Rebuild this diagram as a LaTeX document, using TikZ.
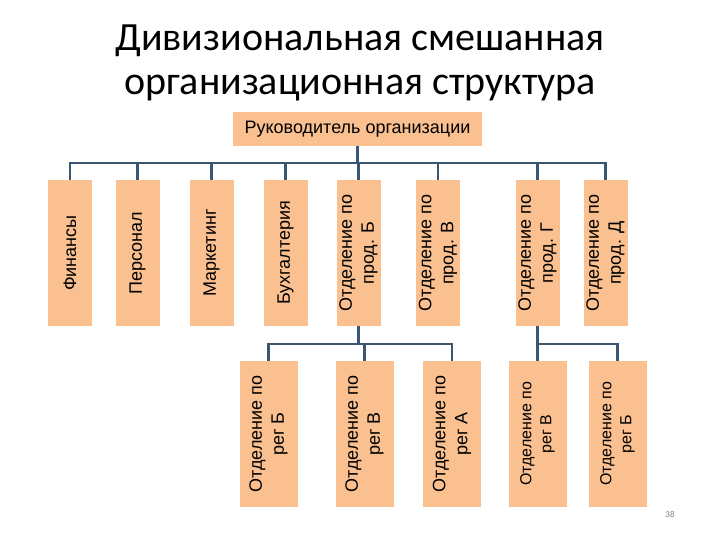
\documentclass[tikz,border=0pt]{standalone}
\usepackage{fontspec}
\setmainfont{Liberation Sans}
\newfontfamily\titlefont{Carlito}
\usetikzlibrary{shapes}
\definecolor{boxfill}{RGB}{250,192,144}
\definecolor{linkcol}{RGB}{59,86,112}

\begin{document}
\begin{tikzpicture}[x=1pt, y=-1pt]
    % Define the style for the boxes
    \tikzset{
        unit/.style={rectangle, fill=boxfill, rotate=90, minimum width=146pt, minimum height=44pt, inner sep=1pt, align=center, text centered, font=\fontsize{18}{22}\selectfont},
        region/.style={unit, minimum height=58pt},
        link/.style={draw=linkcol, line width=2.5pt}
    }
    \useasboundingbox (0,0) rectangle (720,540);

    % Draw the title
    \node[anchor=base, font=\titlefont\fontsize{40}{44}\selectfont] (title1) at (360,51) {Дивизиональная смешанная};
    \node[anchor=base, font=\titlefont\fontsize{40}{44}\selectfont] (title2) at (360,95) {организационная структура};

    % Draw the head of the organization
    \node[rectangle, fill=boxfill, minimum width=249pt, minimum height=34pt, font=\fontsize{18}{22}\selectfont] (head) at (357.5,129) {Руководитель организации};

    % Draw the units of the first level
    \node[unit] (fin) at (70,253) {Финансы};
    \node[unit] (pers) at (137.5,253) {Персонал};
    \node[unit] (mark) at (211.5,253) {Маркетинг};
    \node[unit] (buh) at (285.5,253) {Бухгалтерия};
    \node[unit] (prodB) at (358.5,253) {Отделение по\\прод. Б};
    \node[unit] (prodV) at (438,253) {Отделение по\\прод. В};
    \node[unit] (prodG) at (537.5,253) {Отделение по\\прод. Г};
    \node[unit] (prodD) at (605.5,253) {Отделение по\\прод. Д};

    % Draw the regional units
    \node[region] (regB1) at (268.5,434) {Отделение по\\рег Б};
    \node[region] (regV1) at (364.5,434) {Отделение по\\рег В};
    \node[region] (regA) at (452,434) {Отделение по\\рег А};
    \node[region, font=\fontsize{16}{20}\selectfont] (regV2) at (537.5,434) {Отделение по\\рег В};
    \node[region, font=\fontsize{16}{20}\selectfont] (regB2) at (617.5,434) {Отделение по\\рег Б};

    % Draw the connections
    \foreach \c in {fin, pers, mark, buh, prodB, prodV, prodG, prodD}
        \draw[link] (head.south) -- ++(0,17) -| (\c.east);
    \foreach \c in {regB1, regV1, regA}
        \draw[link] (prodB.west) -- ++(0,18) -| (\c.east);
    \foreach \c in {regV2, regB2}
        \draw[link] (prodG.west) -- ++(0,18) -| (\c.east);

    % Page number
    \node[font=\titlefont\fontsize{9}{10}\selectfont, text=gray] (pagenum) at (670,514) {38};
\end{tikzpicture}
\end{document}
